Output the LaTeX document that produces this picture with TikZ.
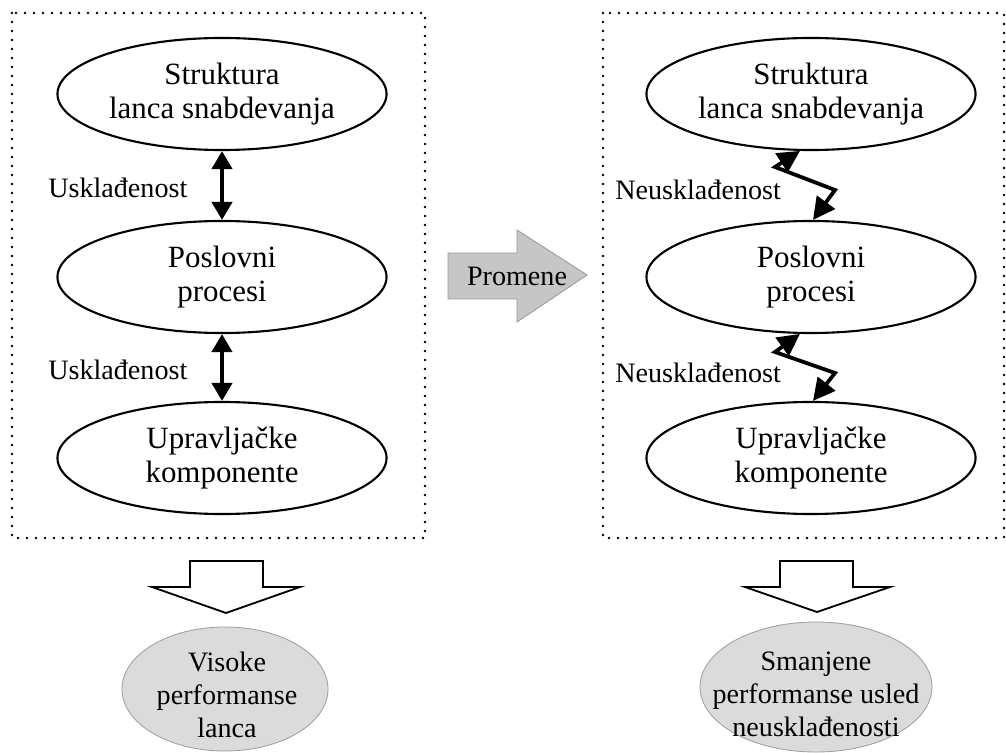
\documentclass[tikz,border=0pt]{standalone}
\usepackage{fontspec}
\setmainfont{Liberation Serif}
\usetikzlibrary{shapes.geometric,arrows.meta}
\begin{document}
\begin{tikzpicture}[x=0.025cm,y=-0.025cm,
  dotbox/.style={draw, line width=1.9pt, line cap=round, dash pattern=on 0pt off 6.4pt},
  ell/.style={ellipse, draw, line width=1.5pt, minimum width=8.225cm, minimum height=2.8cm,
    inner sep=0pt, align=center, font=\fontsize{22}{24.5}\selectfont},
  res/.style={ellipse, draw=gray!75, line width=0.6pt, fill=gray!28, inner sep=0pt},
  restext/.style={align=center, inner sep=0pt, font=\fontsize{20}{23.5}\selectfont},
  lbl/.style={anchor=west, inner sep=0pt, font=\fontsize{20}{24}\selectfont},
  dbl/.style={line width=2.9pt, {Triangle[length=0.45cm,width=0.5cm]}-{Triangle[length=0.45cm,width=0.5cm]}},
  zig/.style={line width=2.7pt, line join=miter, {Triangle[length=0.55cm,width=0.55cm]}-{Triangle[length=0.55cm,width=0.55cm]}},
  blk/.style={draw, line width=1.3pt, fill=white, line join=miter},
  chg/.style={draw=gray!80, line width=0.6pt, fill=gray!45, line join=miter}]
\useasboundingbox (0,0) rectangle (1006,753);

% dotted frames
\draw[dotbox] (12,13) rectangle (425,538);
\draw[dotbox] (603,13) rectangle (1004,538);

% left column
\node[ell] (ls) at (222,94) {Struktura\\lanca snabdevanja};
\node[ell] (lp) at (222,277) {Poslovni\\procesi};
\node[ell] (lu) at (222,458) {Upravljačke\\komponente};
\draw[dbl] (ls.south) -- (lp.north);
\draw[dbl] (lp.south) -- (lu.north);
\node[lbl] (la1) at (48,188) {Usklađenost};
\node[lbl] (la2) at (48,370) {Usklađenost};

% right column
\node[ell] (rs) at (811,94) {Struktura\\lanca snabdevanja};
\node[ell] (rp) at (811,277) {Poslovni\\procesi};
\node[ell] (ru) at (811,458) {Upravljačke\\komponente};
\coordinate (z1a) at (775,167);
\coordinate (z1b) at (835,190);
\coordinate (z2a) at (775,352);
\coordinate (z2b) at (835,373);
\draw[zig] (rs.259) -- (z1a) -- (z1b) -- (rp.88);
\draw[zig] (rp.259) -- (z2a) -- (z2b) -- (ru.88);
\node[lbl] (ra1) at (615,190) {Neusklađenost};
\node[lbl] (ra2) at (615,373) {Neusklađenost};

% change arrow
\draw[chg] (448,253) -- (517,253) -- (517,230) -- (587,275) -- (517,322) -- (517,299) -- (448,299) -- cycle;
\node[inner sep=0pt, font=\fontsize{20}{24}\selectfont] (chgt) at (517,276) {Promene};

% down block arrows
\draw[blk] (190,561) -- (263,561) -- (263,587) -- (300,587) -- (226,613) -- (152,587) -- (190,587) -- cycle;
\draw[blk] (780,561) -- (853,561) -- (853,587) -- (890,587) -- (817,612) -- (745,587) -- (780,587) -- cycle;

% results
\node[res, minimum width=5.15cm, minimum height=3.1cm] (lr) at (225,689) {};
\node[restext] (lrt) at (227,695) {Visoke\\performanse\\lanca};
\node[res, minimum width=5.8cm, minimum height=3.25cm] (rr) at (816,687) {};
\node[restext] (rrt) at (816,694) {Smanjene\\performanse usled\\neusklađenosti};
\end{tikzpicture}
\end{document}
